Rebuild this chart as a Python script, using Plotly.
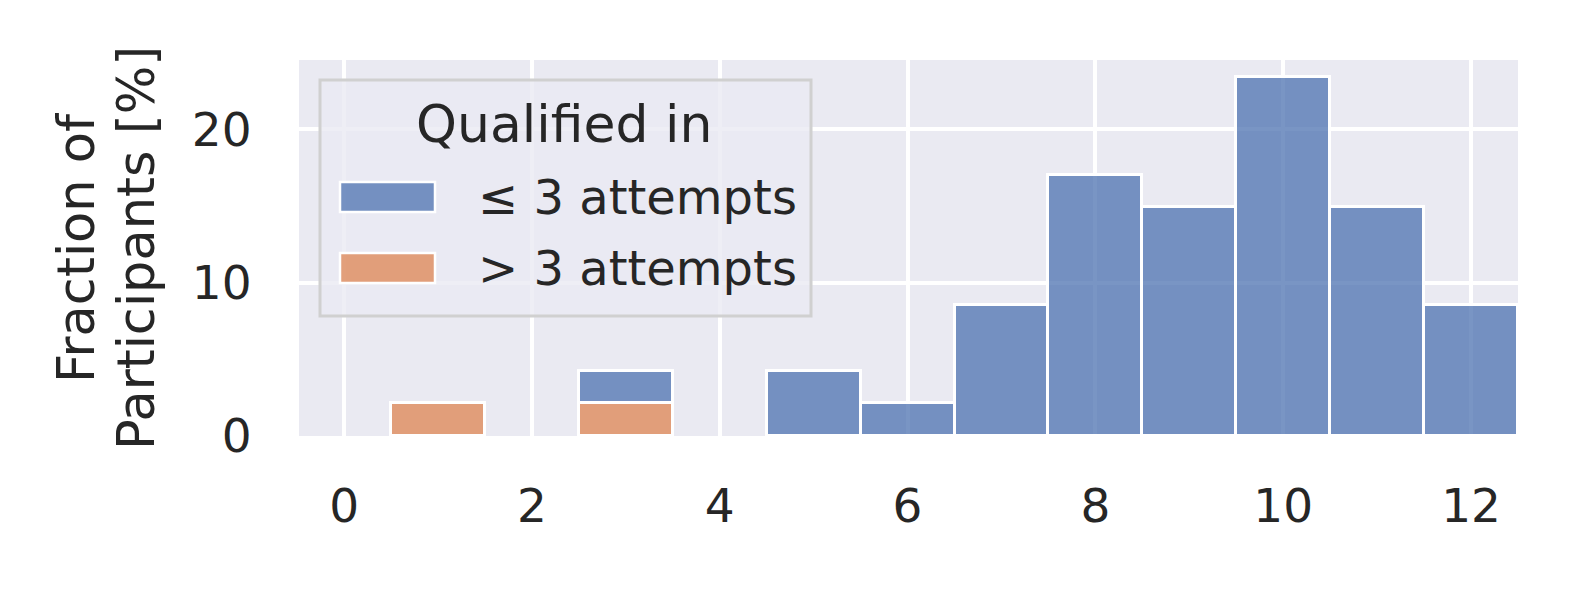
import plotly.graph_objects as go

# histogram counts as % of participants (47 people)
le3_x = [3, 5, 6, 7, 8, 9, 10, 11, 12]
le3_pct = [2.13, 4.26, 2.13, 8.51, 17.02, 14.89, 23.40, 14.89, 8.51]
gt3_x = [1, 3]
gt3_pct = [2.13, 2.13]

series_names = ["≤ 3 attempts", "> 3 attempts"]
legend_title = "Qualified in"
x_ticks = [0, 2, 4, 6, 8, 10, 12]
y_ticks = [0, 10, 20]

BLUE = "rgba(76,114,176,0.75)"
ORANGE = "rgba(221,132,82,0.75)"
TXT = "#262626"
FONT = "DejaVu Sans"

# page has an 8px body margin
OFF = 8
W, H = 1570, 584
L, T = 291, 52
PW, PH = 1219, 376
R, B = W - L - PW, H - T - PH


def px(x):
    # page pixel -> paper x
    return (x - OFF - L) / PW


def py(y):
    # page pixel -> paper y
    return (T + OFF + PH - y) / PH


fig = go.Figure()
fig.add_trace(go.Bar(x=gt3_x, y=gt3_pct, name=series_names[1], width=1,
                     marker=dict(color=ORANGE, line=dict(color="white", width=3))))
fig.add_trace(go.Bar(x=le3_x, y=le3_pct, name=series_names[0], width=1,
                     marker=dict(color=BLUE, line=dict(color="white", width=3))))

fig.update_layout(
    width=W, height=H,
    margin=dict(l=L, r=R, t=T, b=B),
    barmode="stack", bargap=0,
    showlegend=False,
    plot_bgcolor="#EAEAF2", paper_bgcolor="white",
    font=dict(family=FONT, size=47, color=TXT),
)
fig.update_xaxes(range=[-0.48, 12.5], tickvals=x_ticks, showgrid=True, gridcolor="white",
                 gridwidth=4, zeroline=False, ticks="outside", ticklen=29,
                 tickcolor="rgba(0,0,0,0)", tickfont=dict(size=47, color=TXT))
fig.update_yaxes(range=[0, 24.5], tickvals=y_ticks, showgrid=True, gridcolor="white",
                 gridwidth=4, zeroline=False, ticks="outside", ticklen=37,
                 tickcolor="rgba(0,0,0,0)", tickfont=dict(size=47, color=TXT))

# y label, two lines
for txt, shift in [("Fraction of", -223), ("Participants [%]", -163)]:
    fig.add_annotation(text=txt, xref="paper", yref="paper", x=0, y=0.5,
                       xanchor="center", yanchor="middle", xshift=shift,
                       textangle=-90, showarrow=False,
                       font=dict(size=51, color=TXT, family=FONT))

# legend box drawn by hand (matplotlib style)
fig.add_shape(type="rect", xref="paper", yref="paper",
              x0=px(320), x1=px(811), y0=py(316), y1=py(80),
              fillcolor="rgba(234,234,242,0.8)", line=dict(color="#D0D0D0", width=3),
              layer="above")
fig.add_annotation(text=legend_title, xref="paper", yref="paper", x=px(564), y=py(124),
                   xanchor="center", yanchor="middle", showarrow=False,
                   font=dict(size=52, color=TXT, family=FONT))
for name, col, yc in [(series_names[0], BLUE, 197), (series_names[1], ORANGE, 268)]:
    fig.add_shape(type="rect", xref="paper", yref="paper",
                  x0=px(340), x1=px(435), y0=py(yc + 15), y1=py(yc - 15),
                  fillcolor=col, line=dict(color="white", width=2.5), layer="above")
    fig.add_annotation(text=name, xref="paper", yref="paper", x=px(476), y=py(yc),
                       xanchor="left", yanchor="middle", showarrow=False,
                       font=dict(size=48, color=TXT, family=FONT))

fig.write_html("out.html")
